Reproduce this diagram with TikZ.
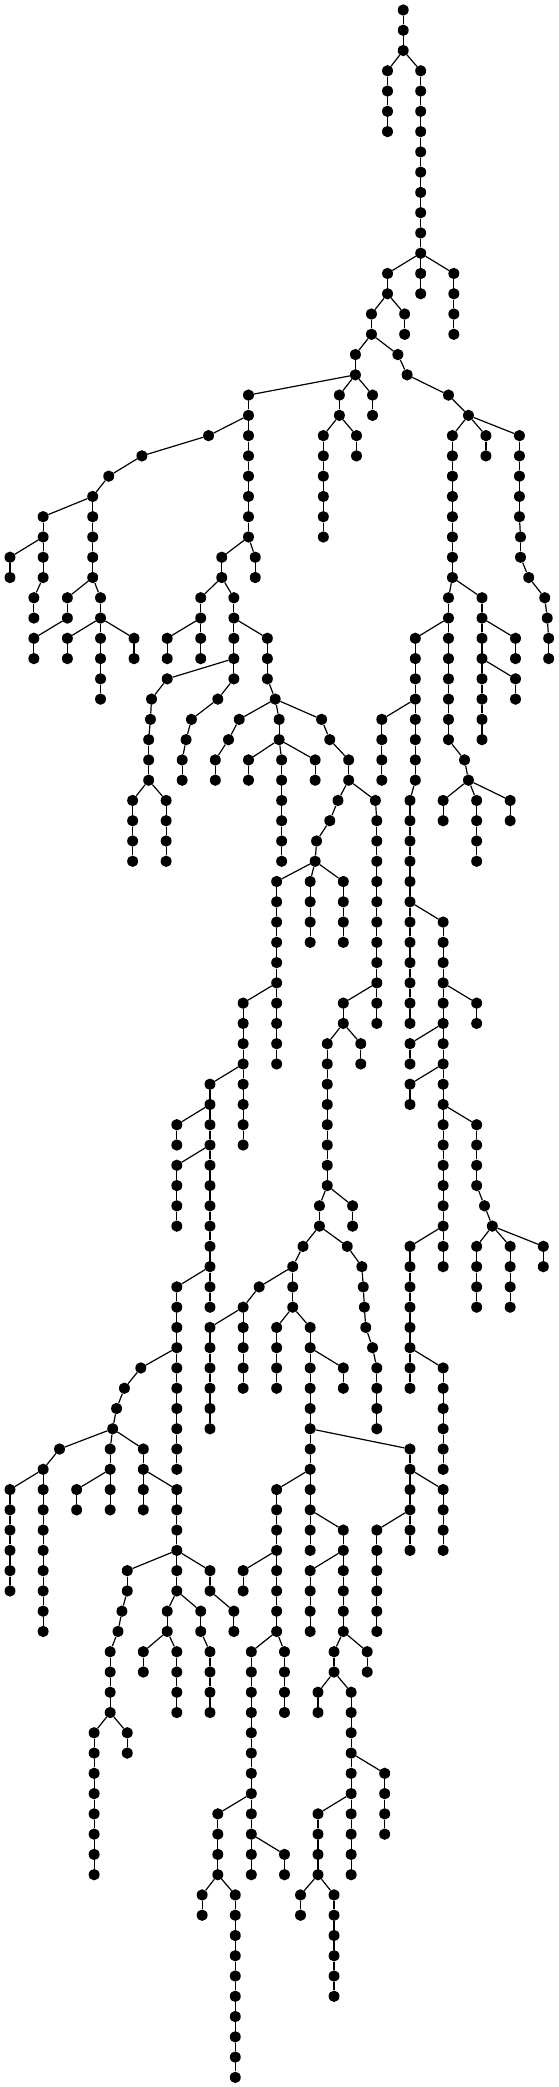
\documentclass[tikz,border=0pt]{standalone}
\usetikzlibrary{shapes.geometric}
\tikzset{
  dot/.style={ellipse,fill=black,draw=none,inner sep=0pt,minimum width=10.9pt,minimum height=11.4pt},
  link/.style={draw=black,line width=1.2pt}
}
% one row of the tree: \R{row}{x/parent-x, ...}; x alone means the parent sits straight above
\newcommand\R[2]{%
  \foreach \x/\p in {#2}{%
    \node[dot] (n#1x\x) at ({\x*0.3565},{-10-20.268*#1}) {};
    \pgfmathtruncatemacro\q{#1-1}%
    \ifnum#1>0 \draw[link] (n\q x\p) -- (n#1x\x);\fi
  }%
}
\begin{document}
\begin{tikzpicture}[x=1pt,y=1pt]
\useasboundingbox (0,0) rectangle (559,-2087);
\R{0}{1131}
\R{1}{1131}
\R{2}{1131}
\R{3}{1087/1131,1180/1131}
\R{4}{1087,1180}
\R{5}{1087,1180}
\R{6}{1087,1180}
\R{7}{1180}
\R{8}{1180}
\R{9}{1180}
\R{10}{1180}
\R{11}{1180}
\R{12}{1180}
\R{13}{1087/1180,1180,1273/1180}
\R{14}{1087,1180,1273}
\R{15}{1042/1087,1135/1087,1273}
\R{16}{1042,1135,1273}
\R{17}{997/1042,1116/1042}
\R{18}{997,1142/1116}
\R{19}{697/997,952/997,1045/997,1258/1142}
\R{20}{697,952,1045,1314/1258}
\R{21}{585/697,697,907/952,1000/952,1269/1314,1363/1314,1457/1314}
\R{22}{398/585,697,907,1000,1269,1363,1457}
\R{23}{305/398,697,907,1269,1457}
\R{24}{260/305,697,907,1269,1457}
\R{25}{121/260,260,697,907,1269,1457}
\R{26}{121,260,697,907,1269,1460/1457}
\R{27}{28/121,121,260,622/697,716/697,1269,1460}
\R{28}{28,121,260,622,716,1269,1483/1460}
\R{29}{95/121,189/260,282/260,563/622,656/622,1258/1269,1352/1269,1528/1483}
\R{30}{95,189,282,563,656,1258,1352,1535/1528}
\R{31}{95/189,189/282,282,376/282,469/563,563,656,750/656,1165/1258,1258,1352,1446/1352,1539/1535}
\R{32}{95,189,282,376,469,563,656,750,1165,1258,1352,1446,1539}
\R{33}{282,469/656,656,750,1165,1258,1352,1446/1352}
\R{34}{282,425/469,611/656,772/750,1165,1258,1352,1446}
\R{35}{422/425,537/611,671/772,783/772,902/772,1071/1165,1165,1258,1352}
\R{36}{417/422,522/537,641/671,783,925/902,1071,1165,1258,1352}
\R{37}{417,511/522,604/641,697/783,790/783,884/783,978/925,1071,1165,1303/1258}
\R{38}{417,511,604,697,790,884,978,1071,1165,1314/1303}
\R{39}{372/417,466/417,790,948/978,1053/978,1150/1165,1243/1314,1337/1314,1431/1314}
\R{40}{372,466,790,925/948,1057/1053,1150,1243,1337,1431}
\R{41}{372,466,790,888/925,1057,1150,1337}
\R{42}{372,466,790,884/888,1057,1150,1337}
\R{43}{776/884,870/884,963/884,1057,1150}
\R{44}{776,870,963,1057,1150}
\R{45}{776,870,963,1057,1150,1243/1150}
\R{46}{776,870,963,1057,1150,1243}
\R{47}{776,1057,1150,1243}
\R{48}{776,1057,1150,1243}
\R{49}{682/776,776,963/1057,1057,1150,1243,1337/1243}
\R{50}{682,776,963,1057,1150,1243,1337}
\R{51}{682,776,918/963,1012/963,1150/1243,1243}
\R{52}{682,776,918,1012,1150,1243}
\R{53}{589/682,682,918,1150/1243,1243}
\R{54}{589,682,918,1150,1243}
\R{55}{496/589,589,682,918,1243,1337/1243}
\R{56}{496,589,682,918,1243,1337}
\R{57}{496/589,589,918,1243,1337}
\R{58}{496,589,918,1243,1337}
\R{59}{496,589,896/918,989/918,1243,1359/1337}
\R{60}{496,589,896,989,1243,1381/1359}
\R{61}{589,850/896,974/896,1150/1243,1243,1337/1381,1431/1381,1524/1381}
\R{62}{589,821/850,1015/974,1150,1243,1337,1431,1524}
\R{63}{496/589,589,727/821,821,1019/1015,1150,1337,1431}
\R{64}{496,589,682/727,821,1022/1019,1150,1337,1431}
\R{65}{496,589/682,682,776/821,870/821,1026/1022,1150}
\R{66}{496,589,682,776,870,1045/1026,1150}
\R{67}{395/496,496,589,682,776,870,963/870,1057/1045,1150,1243/1150}
\R{68}{349/395,496,589,682,776,870,963,1057,1150,1243}
\R{69}{327/349,496,589,870,1057,1243}
\R{70}{316/327,496,589,870,1057,1243}
\R{71}{167/316,309/316,402/316,496,870,1150/870,1243}
\R{72}{121/167,309,402,496,870,1150,1243}
\R{73}{28/121,121,215/309,309,402,496/402,776/870,870,1150,1243/1150}
\R{74}{28,121,215,309,402,496,776,870,1150,1243}
\R{75}{28,121,496,776,870,963/870,1057/1150,1150,1243}
\R{76}{28,121,496,776,870,963,1057,1150,1243}
\R{77}{28,121,357/496,496,589/496,682/776,776,870/963,963,1057}
\R{78}{28,121,357,496,589,682,776,870,963,1057}
\R{79}{121,342/357,469/496,563/496,656/589,776,870,963,1057}
\R{80}{121,331/342,469,563,656,776,870,963,1057}
\R{81}{309/331,402/469,496/469,589/563,705/776,798/776,937/963,1030/963}
\R{82}{309,402,496,589,705,798,937,1030}
\R{83}{309,496,589,705,798,892/937,985/937}
\R{84}{309,496,589,705,798,892,985}
\R{85}{264/309,357/309,705,985}
\R{86}{264,357,705,985}
\R{87}{264,705,985,1079/985}
\R{88}{264,705,985,1079}
\R{89}{264,611/705,705,892/985,985,1079}
\R{90}{264,611,705,892,985,1079}
\R{91}{264,611,705,798/705,892,985}
\R{92}{264,611,705,798,892,985}
\R{93}{567/611,660/611,843/892,937/892}
\R{94}{567,660,843,937}
\R{95}{660,937}
\R{96}{660,937}
\R{97}{660,937}
\R{98}{660,937}
\R{99}{660}
\R{100}{660}
\R{101}{660}
\R{102}{660}
\end{tikzpicture}
\end{document}
